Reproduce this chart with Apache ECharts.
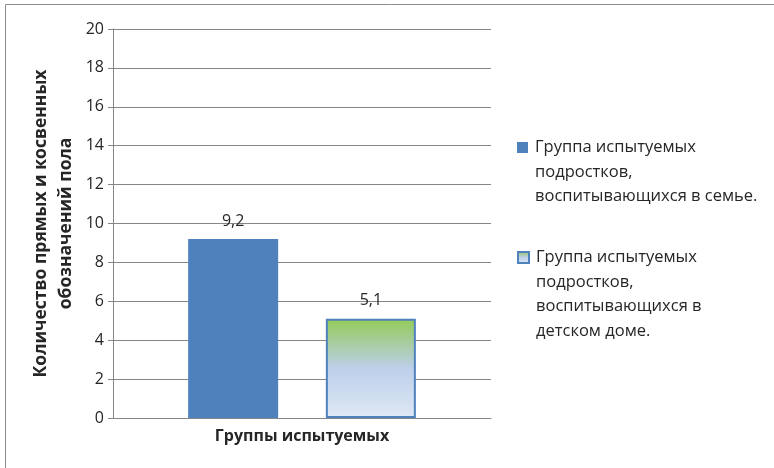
<!DOCTYPE html>
<html><head><meta charset="utf-8">
<script src="https://cdn.jsdelivr.net/npm/echarts@6/dist/echarts.min.js"></script>
<style>html,body{margin:0;padding:0;background:#fff}#c{width:774px;height:468px}</style>
</head><body><div id="c"></div>
<script>
var categories = [''];
var seriesNames = ['Группа испытуемых\nподростков,\nвоспитывающихся в семье.', 'Группа испытуемых\nподростков,\nвоспитывающихся в\nдетском доме.'];
var familyValues = [9.2];
var orphanageValues = [5.1];
var yTicks = {min: 0, max: 20, interval: 2};
var yAxisTitle = 'Количество прямых и косвенных\nобозначений пола';
var xAxisTitle = 'Группы испытуемых';

var FONT = '"Open Sans", sans-serif';
var TXT = '#262626';
var LH = 24.5;
var chart = echarts.init(document.getElementById('c'));
var grad = new echarts.graphic.LinearGradient(0, 0, 0, 1, [
  {offset: 0, color: '#93CB58'},
  {offset: 0.5, color: '#BDCFEA'},
  {offset: 1, color: '#DFE8F5'}
]);
function lbl(p){ return String(p.value).replace('.', ','); }
function legendFor(name, iconCenter){
  var lines = name.split('\n').length;
  var total = 2 * lines - 1;
  return {
    orient: 'vertical', left: 517, top: iconCenter - total * LH / 2, padding: 0,
    itemWidth: 11, itemHeight: 11, icon: 'rect',
    data: [name],
    formatter: function(n){ var s = ''; for (var i = 1; i < lines; i++) s += ' \n'; return s + n; },
    textStyle: {fontFamily: FONT, fontSize: 16.5, color: TXT, lineHeight: LH, padding: [0, 0, 0, 2]}
  };
}
chart.setOption({
  animation: false,
  textStyle: {fontFamily: FONT},
  grid: {left: 113, right: 283, top: 29, bottom: 50, containLabel: false},
  graphic: [{type: 'rect', shape: {x: 5.5, y: 4.5, width: 900, height: 600}, style: {fill: 'none', stroke: '#8c8c8c', lineWidth: 1}, silent: true}],
  legend: [legendFor(seriesNames[0], 147.5), legendFor(seriesNames[1], 257.5)],
  xAxis: {
    type: 'category', data: categories,
    name: xAxisTitle, nameLocation: 'middle', nameGap: 10,
    nameTextStyle: {fontFamily: FONT, fontSize: 16, fontWeight: 'bold', color: TXT, verticalAlign: 'top'},
    axisLine: {lineStyle: {color: '#868686'}},
    axisTick: {show: false}, axisLabel: {show: false}
  },
  yAxis: {
    type: 'value', min: yTicks.min, max: yTicks.max, interval: yTicks.interval,
    name: yAxisTitle, nameLocation: 'middle', nameGap: 34, nameRotate: 90,
    nameTextStyle: {fontFamily: FONT, fontSize: 17.5, fontWeight: 'bold', color: TXT, lineHeight: 25},
    axisLine: {show: true, lineStyle: {color: '#868686'}},
    axisTick: {show: true, length: 5, lineStyle: {color: '#868686'}},
    axisLabel: {margin: 9, fontFamily: FONT, fontSize: 16, color: TXT},
    splitLine: {lineStyle: {color: '#868686'}}
  },
  series: [
    {name: seriesNames[0], type: 'bar', data: familyValues, barWidth: 90, barGap: '53%',
     itemStyle: {color: '#4F81BD'},
     label: {show: true, position: 'top', distance: 10, formatter: lbl, fontFamily: FONT, fontSize: 16, color: TXT}},
    {name: seriesNames[1], type: 'bar', data: orphanageValues, barWidth: 90,
     itemStyle: {color: grad, borderColor: '#4F81BD', borderWidth: 2},
     label: {show: true, position: 'top', distance: 10, formatter: lbl, fontFamily: FONT, fontSize: 16, color: TXT}}
  ]
});
</script></body></html>
